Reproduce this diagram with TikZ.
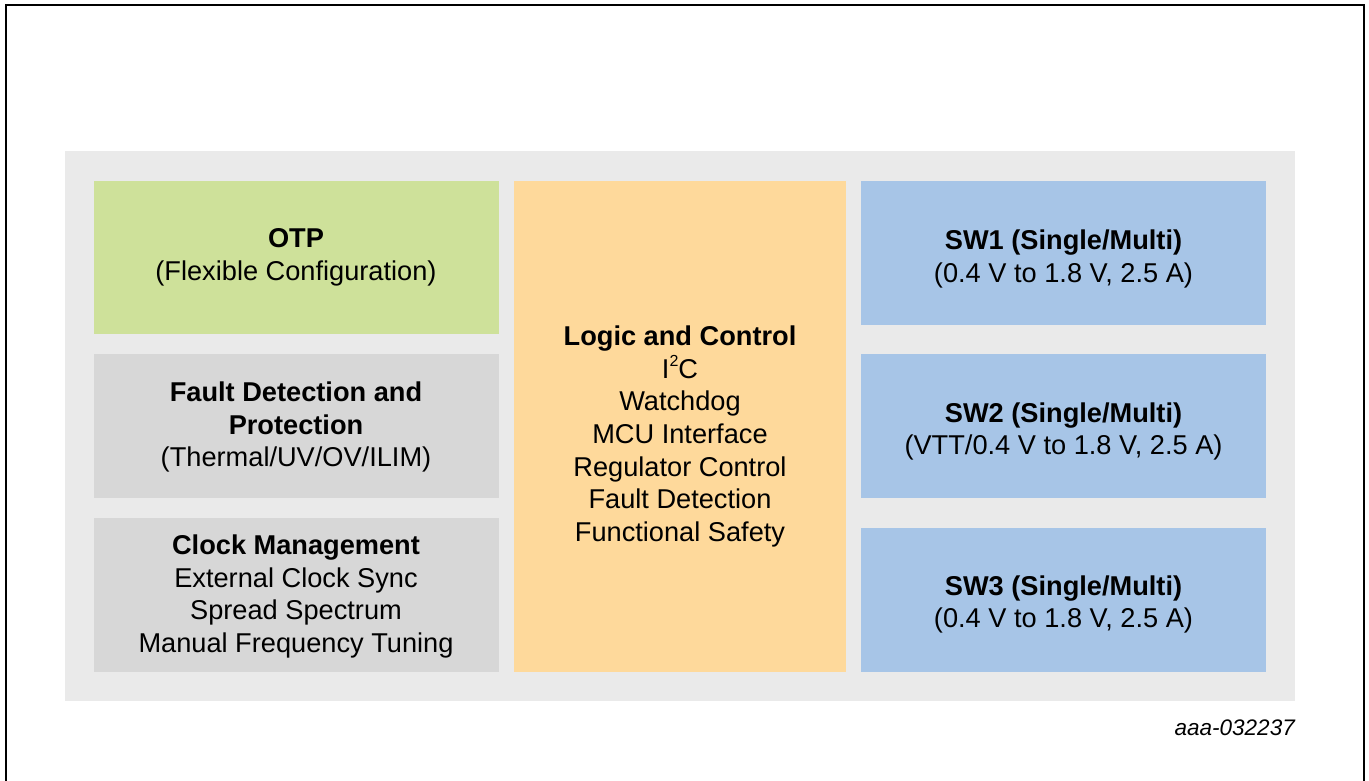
\documentclass[tikz,border=0pt]{standalone}
\usepackage{fontspec}
\setmainfont{Liberation Sans}
\definecolor{bgGrey}{HTML}{EAEAEA}
\definecolor{boxGrey}{HTML}{D7D7D7}
\definecolor{otpGreen}{HTML}{CEE19A}
\definecolor{logicOrange}{HTML}{FED99B}
\definecolor{swBlue}{HTML}{A7C5E7}
\newcommand{\supsm}[1]{\raisebox{0.42em}{\fontsize{16}{16}\selectfont #1}}
\tikzset{
  lbl/.style={align=center, font=\fontsize{27.2}{32.6}\selectfont, inner sep=0pt, text=black},
}
\begin{document}
\begin{tikzpicture}[x=1pt,y=-1pt]
\useasboundingbox (0,0) rectangle (1369,781);
% frame
\draw[line width=2pt, black] (6,781) -- (6,5) -- (1364,5) -- (1364,781);
% background
\fill[bgGrey] (65,151) rectangle (1295,701);
% blocks
\fill[otpGreen] (94,181) rectangle (499,334);
\fill[boxGrey] (94,354) rectangle (499,498);
\fill[boxGrey] (94,518) rectangle (499,672);
\fill[logicOrange] (514,181) rectangle (846,672);
\fill[swBlue] (861,181) rectangle (1266,325);
\fill[swBlue] (861,354) rectangle (1266,498);
\fill[swBlue] (861,528) rectangle (1266,672);
% texts
\node[lbl] (otp) at (296,257.5) {\textbf{OTP}\\(Flexible Configuration)};
\node[lbl] (fault) at (296,427) {\textbf{Fault Detection and}\\\textbf{Protection}\\(Thermal/UV/OV/ILIM)};
\node[lbl] (clock) at (296,596.5) {\textbf{Clock Management}\\External Clock Sync\\Spread Spectrum\\Manual Frequency Tuning};
\node[lbl] (logic) at (680,436.5) {\textbf{Logic and Control}\\I\supsm{2}C\\Watchdog\\MCU Interface\\Regulator Control\\Fault Detection\\Functional Safety};
\node[lbl] (sw1) at (1063.5,259) {\textbf{SW1 (Single/Multi)}\\(0.4 V to 1.8 V, 2.5 A)};
\node[lbl] (sw2) at (1063.5,431.5) {\textbf{SW2 (Single/Multi)}\\(VTT/0.4 V to 1.8 V, 2.5 A)};
\node[lbl] (sw3) at (1063.5,604.5) {\textbf{SW3 (Single/Multi)}\\(0.4 V to 1.8 V, 2.5 A)};
\node[anchor=east, inner sep=0pt, font=\fontsize{22.5}{26}\selectfont\itshape] (docid) at (1295,728) {aaa-032237};
\end{tikzpicture}
\end{document}
